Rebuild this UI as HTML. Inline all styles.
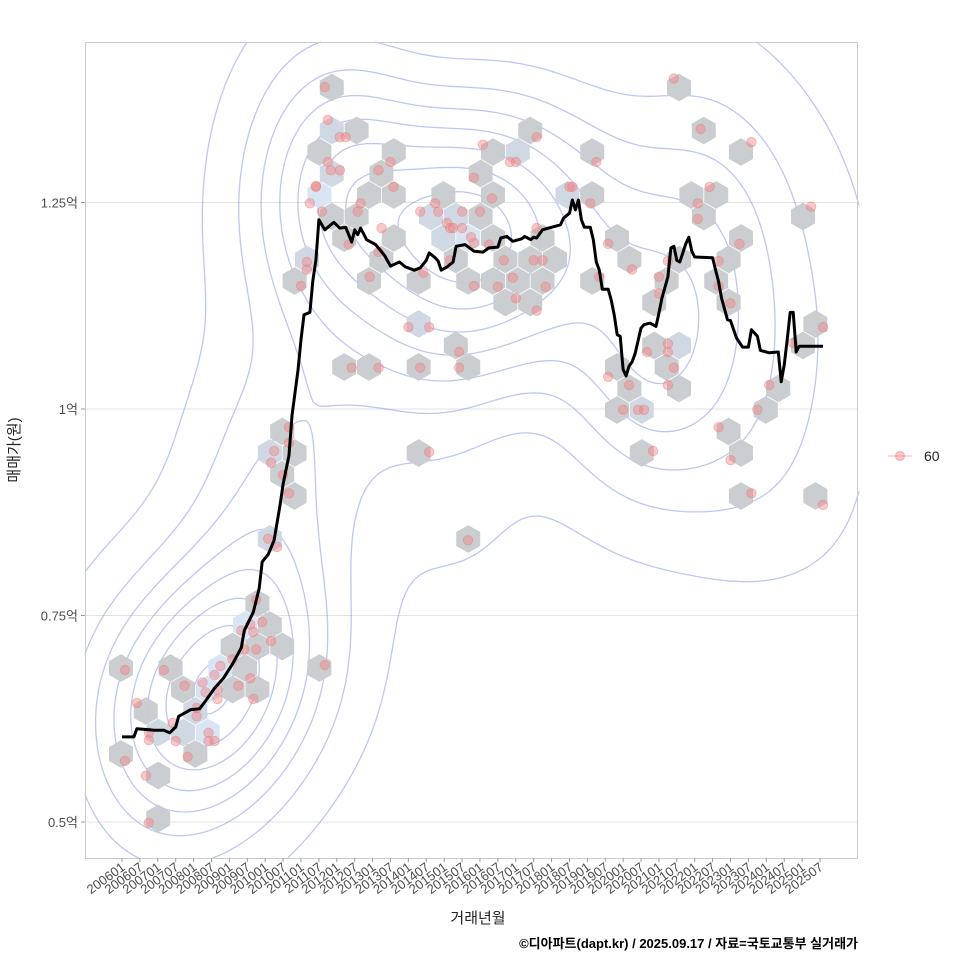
<!DOCTYPE html>
<html><head><meta charset="utf-8">
<style>
html,body{margin:0;padding:0;background:#fff;}
svg{display:block;font-family:"Liberation Sans","Noto Sans CJK KR",sans-serif;}
</style></head>
<body>
<svg id="chart" width="960" height="960" viewBox="0 0 960 960">
  <rect x="0" y="0" width="960" height="960" fill="#fff"/>
  <g id="grid"></g>
  <g id="contours"></g>
  <g id="hexes"></g>
  <g id="dots"></g>
  <g id="line"></g>
  <rect x="85.5" y="42.5" width="772" height="816" fill="none" stroke="#cccccc" stroke-width="1"/>
  <g id="yaxis"></g>
  <g id="xaxis"></g>
  <text x="19" y="450" transform="rotate(-90 19 450)" text-anchor="middle" font-size="15" fill="#222">매매가(원)</text>
  <text x="478" y="923" text-anchor="middle" font-size="15" fill="#222">거래년월</text>
  <g>
    <line x1="888" y1="456" x2="912" y2="456" stroke="rgba(240,128,128,0.5)" stroke-width="1.2"/>
    <circle cx="900" cy="456" r="4.5" fill="rgba(240,128,128,0.45)" stroke="rgba(240,128,128,0.6)"/>
    <text x="924" y="461" font-size="14" fill="#222">60</text>
  </g>
  <text x="858" y="948" text-anchor="end" font-size="13" font-weight="bold" fill="#000">©디아파트(dapt.kr) / 2025.09.17 / 자료=국토교통부 실거래가</text>
</svg>
<script>
// ---- data (months since 2006-01, price in 만원) ----
var yTickValues = [5000, 7500, 10000, 12500];
var yTickLabels = ["0.5억", "0.75억", "1억", "1.25억"];
var xTickStart = 0, xTickStep = 6, xTickCount = 40;

var lineMonths = [0,4,5,11,14,16,18,19,23,26,28,31,34,37,40,41,44,46,47,49,51,53,54,56,57,59,60,61,63,64,65,66,68,71,73,75,76,77,78,79,80,82,85,88,90,93,95,98,100,102,103,105,106,107,109,111,112,115,118,121,123,126,127,129,131,134,135,137,138,139,141,143,147,148,150,151,152,153,154,155,157,158,159,160,161,163,164,165,166,167,168,169,170,171,172,174,175,177,179,180,181,183,184,185,186,187,189,190,191,192,198,199,200,201,203,204,206,208,210,211,213,214,217,220,221,222,223,224,225,226,227,235];
var linePrices = [6030,6030,6130,6110,6110,6080,6150,6280,6360,6370,6465,6620,6740,6910,7110,7320,7540,7830,8150,8240,8410,8840,9090,9440,9920,10470,10840,11140,11170,11560,11800,12290,12170,12260,12190,12200,12110,12020,12170,12110,12190,12050,11990,11860,11730,11780,11720,11680,11710,11800,11890,11830,11790,11680,11720,11780,11970,11990,11910,11900,11950,11960,12070,12090,12030,12060,12090,12050,12080,12070,12170,12190,12230,12310,12370,12530,12410,12530,12290,12200,12200,12050,11780,11680,11450,11450,11320,11140,10900,10880,10480,10400,10520,10570,10670,10980,11020,11040,11000,11160,11340,11600,11950,11970,11800,11780,12000,12080,11910,11840,11830,11680,11540,11340,11080,11070,10860,10750,10750,10960,10880,10710,10680,10690,10330,10530,10840,11170,11170,10690,10760,10760];

var dealMonths = [1,14,5,9,8,9,1,21,27,31,33,37,28,32,39,43,44,32,25,25,17,9,18,22,29,29,31,41,45,43,47,40,50,45,44,
65,63,67,62,62,60,56,51,56,50,54,56,49,52,68,
68,69,73,75,69,70,73,65,79,80,76,86,90,91,87,86,83,100,105,106,109,110,111,114,114,120,117,118,123,110,101,121,124,118,130,132,139,128,126,118,131,132,138,141,139,142,139,150,151,157,159,160,96,103,113,113,100,77,86,116,103,
185,194,211,163,197,193,193,231,207,183,200,171,180,200,180,204,183,183,176,185,163,170,183,225,235,217,168,173,175,213,200,178,204,211,235];
var dealPrices = [6840,6840,6440,5990,5560,4990,5740,6650,6690,6780,6890,6970,6570,6600,6650,6740,6490,6490,6280,6380,6200,6080,5980,5790,6080,5980,5980,7090,7090,7390,7420,7320,7190,7690,7300,
12700,12490,12390,11780,11690,11490,9780,9490,9590,9350,9200,8980,8430,8330,6900,
13900,13500,13290,13290,12990,12890,12890,12690,12390,12490,11990,12890,12990,12690,12190,11900,11600,12390,12490,12390,12250,12190,12190,12190,12390,12390,12080,12010,11990,11800,11650,13200,12550,12800,12990,12990,13290,11800,11480,11490,11590,11340,11800,11800,12190,11480,11190,12690,12690,12490,12990,11600,10990,10990,10690,10500,10500,10500,10500,8410,9480,
14000,13390,13230,12000,12690,12490,12300,12450,12000,11790,11790,11690,11600,11490,11400,11280,10790,10690,10690,10500,10390,10290,10290,10800,10990,10290,9990,9990,9990,9990,9780,9490,9380,8980,8840];

// ---- scales ----
var PX0 = 85, PX1 = 858, PY0 = 42, PY1 = 858;
function xs(m){ return 122 + m * 2.983; }
function ys(p){ return 409 - (p - 10000) * 0.08260; }
var NS = "http://www.w3.org/2000/svg";
function mk(tag, attrs, parent){ var e = document.createElementNS(NS, tag); for (var k in attrs) e.setAttribute(k, attrs[k]); parent.appendChild(e); return e; }

// grid + y axis
var grid = document.getElementById('grid'), yax = document.getElementById('yaxis');
for (var i = 0; i < yTickValues.length; i++) {
  var yy = ys(yTickValues[i]);
  var gl = mk('line', {x1:PX0, x2:PX1, y1:yy, y2:yy, stroke:'#e3e3e3', 'stroke-width':1}, grid);
  
  
  var tk = mk('line', {x1:81, x2:85, y1:yy, y2:yy, stroke:'#999'}, yax);
  
  
  var t = mk('text', {x:78, y:yy+5, 'text-anchor':'end', 'font-size':13, fill:'#4d4d4d'}, yax);
  t.textContent = yTickLabels[i];
  
  
}

// x axis
var xax = document.getElementById('xaxis');
for (var j = 0; j < xTickCount; j++) {
  var m = xTickStart + j * xTickStep;
  var xx = xs(m);
  var yr = 2006 + Math.floor(m / 12), mo = (m % 12) + 1;
  var lab = yr + (mo < 10 ? '0' : '') + mo;
  var tk2 = mk('line', {x1:xx, x2:xx, y1:858, y2:862, stroke:'#999'}, xax);
  
  
  var tx = mk('text', {x:xx+4, y:869, 'text-anchor':'end', 'font-size':13, fill:'#4d4d4d', transform:'rotate(-36 '+(xx+4)+' 869)'}, xax);
  tx.textContent = lab;
  
  
}

// points in pixel space
var pts = [];
for (var k = 0; k < dealMonths.length; k++) pts.push([xs(dealMonths[k]), ys(dealPrices[k])]);

// density contours (KDE + marching squares)
(function(){
  var g = document.getElementById('contours');
  var hx = 58, hy = 80, step = 6;
  var nx = Math.ceil((PX1 - PX0) / step) + 1, ny = Math.ceil((PY1 - PY0) / step) + 1;
  var D = [], mx = 0;
  for (var a = 0; a < ny; a++) { D.push([]); for (var b = 0; b < nx; b++) {
    var gx = PX0 + b * step, gy = PY0 + a * step, s = 0;
    for (var q = 0; q < pts.length; q++) { var dx = (gx - pts[q][0]) / hx, dy = (gy - pts[q][1]) / hy; s += Math.exp(-0.5 * (dx*dx + dy*dy)); }
    D[a].push(s); if (s > mx) mx = s; } }
  var d = '';
  for (var L = 1; L <= 8; L++) {
    var lv = mx * (L - 0.5) / 8.3;
    for (var a2 = 0; a2 < ny - 1; a2++) for (var b2 = 0; b2 < nx - 1; b2++) {
      var v0 = D[a2][b2], v1 = D[a2][b2+1], v2 = D[a2+1][b2+1], v3 = D[a2+1][b2];
      var x0 = PX0 + b2*step, y0 = PY0 + a2*step, e = [];
      function it(va, vb, xa, ya, xb, yb){ var t = (lv - va) / (vb - va); e.push([xa + t*(xb-xa), ya + t*(yb-ya)]); }
      if ((v0 > lv) != (v1 > lv)) it(v0, v1, x0, y0, x0+step, y0);
      if ((v1 > lv) != (v2 > lv)) it(v1, v2, x0+step, y0, x0+step, y0+step);
      if ((v2 > lv) != (v3 > lv)) it(v2, v3, x0+step, y0+step, x0, y0+step);
      if ((v3 > lv) != (v0 > lv)) it(v3, v0, x0, y0+step, x0, y0);
      for (var z = 0; z + 1 < e.length; z += 2) d += 'M' + e[z][0].toFixed(1) + ' ' + e[z][1].toFixed(1) + 'L' + e[z+1][0].toFixed(1) + ' ' + e[z+1][1].toFixed(1);
    }
  }
  var p = mk('path', {d:d, fill:'none', stroke:'rgba(90,115,230,0.4)', 'stroke-width':1.3}, g);
  
  
})();

// hexbin
(function(){
  var g = document.getElementById('hexes');
  var w = 24.8, rh = 21.5, ox = 121, oy = 668, R = 13.9;
  var bins = {};
  pts.forEach(function(pt){
    var r = Math.round((pt[1] - oy) / rh);
    var off = (Math.abs(r) % 2 == 1) ? w/2 : 0;
    var c = Math.round((pt[0] - ox - off) / w);
    var key = r + '_' + c;
    if (!bins[key]) bins[key] = {x: ox + off + c*w, y: oy + r*rh, n: 0};
    bins[key].n++;
  });
  for (var key in bins) {
    var bn = bins[key], pp = [];
    for (var s = 0; s < 6; s++) { var ang = Math.PI/6 + s*Math.PI/3; pp.push((bn.x + R*Math.cos(ang)).toFixed(1) + ',' + (bn.y + R*Math.sin(ang)).toFixed(1)); }
    var col = bn.n >= 3 ? '#d6e5f3' : (bn.n == 2 ? '#cdd7e2' : '#c8cbcf');
    var h = mk('polygon', {points: pp.join(' '), fill: col, opacity: 0.95}, g);
    
    
  }
})();

// dots
(function(){
  var g = document.getElementById('dots');
  pts.forEach(function(pt){
    var c = mk('circle', {cx: pt[0].toFixed(1), cy: pt[1].toFixed(1), r: 4.8, fill: 'rgba(240,125,125,0.42)', stroke: 'rgba(240,125,125,0.5)', 'stroke-width': 0.8}, g);
    
    
  });
})();

// trend line
(function(){
  var g = document.getElementById('line');
  var d = '';
  for (var i = 0; i < lineMonths.length; i++) {
    d += (i ? 'L' : 'M') + xs(lineMonths[i]).toFixed(1) + ' ' + ys(linePrices[i]).toFixed(1);
  }
  var p = mk('path', {d: d, fill: 'none', stroke: '#000', 'stroke-width': 3, 'stroke-linejoin': 'round'}, g);
  
  
})();
</script>
</body></html>
